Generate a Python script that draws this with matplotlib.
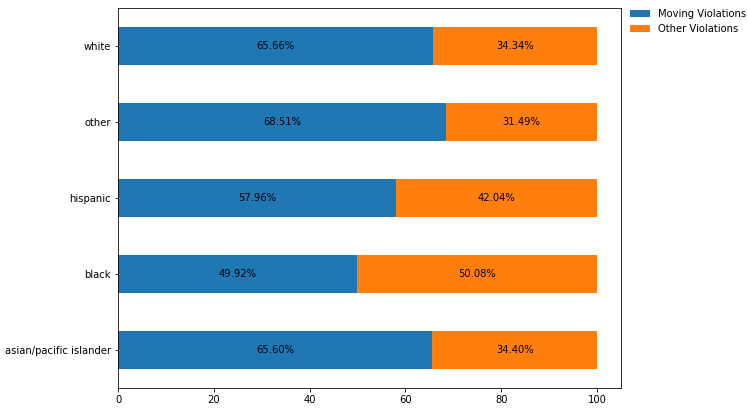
import numpy as np
import matplotlib.pyplot as plt

races = ["asian/pacific islander", "black", "hispanic", "other", "white"]
moving = [65.60, 49.92, 57.96, 68.51, 65.66]
other = [34.40, 50.08, 42.04, 31.49, 34.34]

fig = plt.figure(figsize=(747 / 72, 411 / 72), dpi=72)
ax = fig.add_axes([118 / 747, 1 - 388 / 411, (621 - 118) / 747, (388 - 8) / 411])

y = np.arange(len(races))
b1 = ax.barh(y, moving, height=0.5, color="#1f77b4", label="Moving Violations")
b2 = ax.barh(y, other, height=0.5, left=moving, color="#ff7f0e", label="Other Violations")

for bars in (b1, b2):
    for rect in bars:
        w = rect.get_width()
        ax.text(rect.get_x() + w / 2, rect.get_y() + rect.get_height() / 2,
                f"{w:.2f}%", ha="center", va="center", fontsize=10)

ax.set_yticks(y)
ax.set_yticklabels(races)
ax.set_ylim(-0.5, len(races) - 0.5)
ax.set_xlim(0, 105)
ax.set_xticks([0, 20, 40, 60, 80, 100])

ax.legend(loc="upper left", bbox_to_anchor=(1.0, 1.02), frameon=False)

fig.savefig("out.png", dpi=72)
